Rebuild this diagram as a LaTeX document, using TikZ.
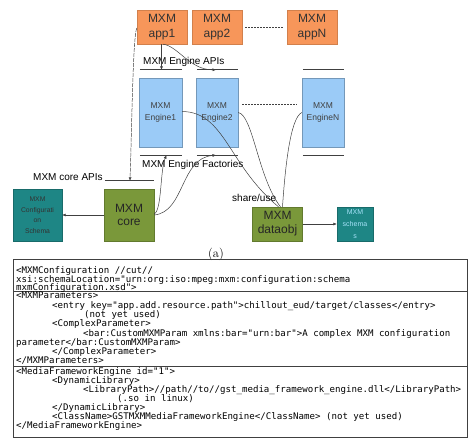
\documentclass[tikz,border=0pt]{standalone}
\usepackage{fontspec}
\newfontfamily\arialfont{Liberation Sans}
\setmonofont{DejaVu Sans Mono}
\usepackage{tikz}
\usetikzlibrary{arrows.meta, calc}
\definecolor{appfill}{RGB}{247, 150, 90}
\definecolor{engfill}{RGB}{155, 203, 247}
\definecolor{corefill}{RGB}{122, 152, 58}
\definecolor{schemafill}{RGB}{30, 134, 133}
\definecolor{wire}{gray}{0.25}
\setlength{\lineskiplimit}{-9pt}

\begin{document}
\begin{tikzpicture}[x=1pt, y=-1pt,
  app/.style={draw=appfill!85!black, fill=appfill, minimum width=50pt, minimum height=34pt,
    inner sep=0pt, align=center, text=black!80, font=\arialfont\fontsize{12}{14.5}\selectfont},
  engine/.style={draw=engfill!75!black, fill=engfill, minimum width=43pt, minimum height=69pt,
    inner sep=0pt, align=center, text=black!75, font=\arialfont\fontsize{8.5}{11.6}\selectfont},
  corebox/.style={draw=corefill!80!black, fill=corefill, minimum width=50pt, minimum height=52pt,
    inner sep=0pt, align=center, text=black!85, font=\arialfont\fontsize{12}{13.6}\selectfont},
  schemabox/.style={draw=schemafill!80!black, fill=schemafill, inner sep=0pt, align=center,
    font=\arialfont\fontsize{6.8}{10.5}\selectfont},
  apiline/.style={draw=wire, line width=0.7pt},
  gap/.style={draw=wire, line width=0.7pt, dash pattern=on 2pt off 1pt},
  conn/.style={draw=wire, line width=0.5pt},
  arr/.style={conn, -{Latex[length=3.5pt, width=3pt]}},
  apitext/.style={anchor=base west, inner sep=0pt, font=\arialfont\fontsize{10}{12}\selectfont},
  code/.style={anchor=north west, inner sep=0pt, align=left}]
  \useasboundingbox (0, 0) rectangle (469, 439);

  \node[app] (app1) at (162, 27) {MXM\\app1};
  \node[app] (app2) at (217, 27) {MXM\\app2};
  \node[app] (appN) at (312, 27) {MXM\\appN};
  \draw[gap] ($(app2.east)+(3, 0)$) -- ($(appN.west)+(-3, 0)$);

  \node[engine] (eng1) at (160.5, 112.5) {MXM\\Engine1};
  \node[engine, minimum width=42pt] (eng2) at (217, 112.5) {MXM\\Engine2};
  \node[engine, minimum width=42pt] (engN) at (323, 112.5) {MXM\\EngineN};
  \draw[gap] ($(eng2.east)+(4, -8.5)$) -- ($(engN.west)+(-5, -8.5)$);

  \foreach \n in {eng1, eng2, engN} {
    \draw[apiline] ($(\n.north west)+(1, -8)$) -- ($(\n.north east)+(0, -8)$);
    \draw[apiline] ($(\n.south west)+(1, 8)$) -- ($(\n.south east)+(0, 8)$);
  }
  \node[apitext] (engapi) at (143, 64.6) {MXM Engine APIs};
  \node[apitext] (engfac) at (142, 167.6) {MXM Engine Factories};

  \node[corebox] (core) at (129, 215) {MXM\\core};
  \node[schemabox, minimum width=49pt, minimum height=52pt, text=black!80] (config) at (37.5, 215)
    {MXM\\Configurati\\on\\Schema};
  \node[corebox, minimum height=34pt, font=\arialfont\fontsize{12}{14}\selectfont] (dataobj) at (277.5, 224)
    {MXM\\dataobj};
  \node[schemabox, minimum width=36pt, minimum height=34pt, text=cyan!35!white,
    font=\arialfont\fontsize{7}{11.7}\selectfont] (schemas) at (355, 224) {MXM\\schema\\s};

  \draw[apiline] ($(core.north west)+(1, -8)$) -- ($(core.north east)+(0, -8)$);
  \node[apitext] (coreapi) at (33, 180.4) {MXM core APIs};
  \node[apitext] (share) at (232, 201.3) {share/use};

  \coordinate (c0) at ($(core.north)+(1, -8)$);
  \coordinate (e1) at ($(eng1.north)+(1, -8)$);
  \coordinate (e2) at ($(eng2.north)+(-1, -8)$);
  \coordinate (f1) at ($(eng1.south)+(6, 8)$);
  \coordinate (f2) at ($(eng2.south)+(-1, 8)$);

  \draw[arr, dash pattern=on 4pt off 1pt] ($(app1.west)+(0, 1)$) .. controls (133, 36) and (132, 120) .. (c0);
  \draw[arr] (app1.south -| e1) -- (e1);
  \draw[arr] ($(app1.south)+(1, 0)$) .. controls (178, 46) and (190, 70) .. (e2);
  \draw[arr] ($(core.east)+(0, -1)$) .. controls (162, 210) and (160, 170) .. (f1);
  \draw[arr] ($(core.east)+(0, 0)$) .. controls (185, 212) and (180, 158) .. (f2);
  \draw[arr] (core.west) -- (config.east);
  \draw[arr] (dataobj.east) -- (schemas.west);

  \draw[conn] ($(eng1.east)+(0, -1)$) .. controls (225, 112) and (228, 165) .. ($(dataobj.north)+(1, 0)$);
  \draw[conn] ($(eng2.east)+(0, 0)$) .. controls (253, 115) and (258, 178) .. ($(dataobj.north)+(3, 0)$);
  \draw[conn] ($(engN.west)+(0, 0)$) .. controls (290, 118) and (285, 170) .. ($(dataobj.north)+(5, 0)$);

  \node[anchor=base west, inner sep=0pt, font=\fontsize{12.5}{14}\selectfont] (caption) at (208, 257) {(a)};

  \draw[wire, line width=0.8pt] (13, 259) rectangle (467, 437);
  \draw[wire, line width=0.8pt] (13, 291) -- (467, 291);
  \draw[wire, line width=0.8pt] (13, 366) -- (467, 366);

  \node[code, font=\ttfamily\fontsize{9.1}{8.4}\selectfont] (row1) at (16, 266.6) {%
    <MXMConfiguration //cut//\\
    xsi:schemaLocation="urn:org:iso:mpeg:mxm:configuration:schema\\
    mxmConfiguration.xsd">};
  \node[code, font=\ttfamily\fontsize{9.1}{9.29}\selectfont] (row2) at (16, 292.1) {%
    <MXMParameters>\\
    \hspace*{36pt}<entry key="app.add.resource.path">chillout\_eud/target/classes</entry>\\
    \hspace*{68pt}(not yet used)\\
    \hspace*{36pt}<ComplexParameter>\\
    \hspace*{67pt}<bar:CustomMXMParam xmlns:bar="urn:bar">A complex MXM configuration\\
    parameter</bar:CustomMXMParam>\\
    \hspace*{36pt}</ComplexParameter>\\
    </MXMParameters>};
  \node[code, font=\ttfamily\fontsize{9.1}{9}\selectfont] (row3) at (16, 367.4) {%
    <MediaFrameworkEngine id="1">\\
    \hspace*{36pt}<DynamicLibrary>\\
    \hspace*{67pt}<LibraryPath>//path//to//gst\_media\_framework\_engine.dll</LibraryPath>\\
    \hspace*{101pt}(.so in linux)\\
    \hspace*{36pt}</DynamicLibrary>\\
    \hspace*{36pt}<ClassName>GSTMXMMediaFrameworkEngine</ClassName> (not yet used)\\
    </MediaFrameworkEngine>};
\end{tikzpicture}
\end{document}
